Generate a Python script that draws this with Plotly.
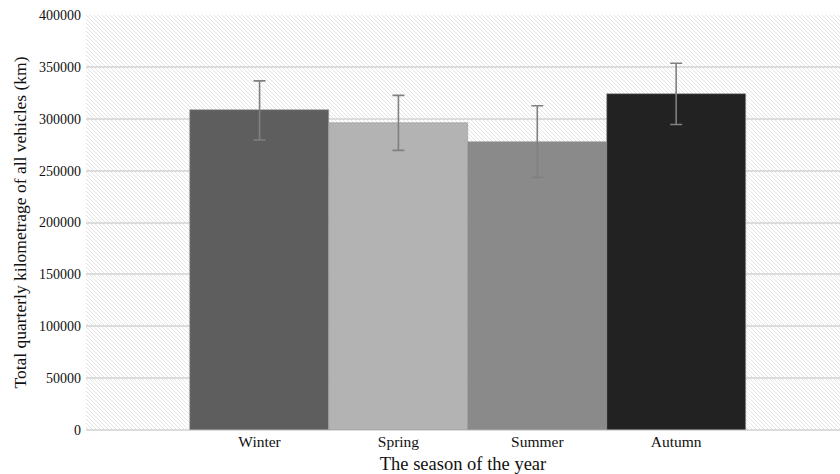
import base64
import plotly.graph_objects as go

# Seasonal totals with their spread
seasons = ["Winter", "Spring", "Summer", "Autumn"]
kilometrage = [308000, 296000, 278000, 324000]
spread = [28500, 26500, 34500, 29500]
bar_colors = ["#5e5e5e", "#b3b3b3", "#8a8a8a", "#222222"]
y_ticks = [0, 50000, 100000, 150000, 200000, 250000, 300000, 350000, 400000]

# Fine diagonal hatch used as the plot-area background
hatch_svg = (
    '<svg xmlns="http://www.w3.org/2000/svg" width="754" height="415">'
    '<defs><pattern id="h" patternUnits="userSpaceOnUse" width="4" height="4">'
    '<rect width="4" height="4" fill="#ffffff"/>'
    '<path d="M-1,-1 L5,5 M-1,3 L1,5 M3,-1 L5,1" stroke="#e4e4e4" stroke-width="1"/>'
    '</pattern></defs>'
    '<rect width="754" height="415" fill="url(#h)"/></svg>'
)
hatch_uri = "data:image/svg+xml;base64," + base64.b64encode(hatch_svg.encode()).decode()

fig = go.Figure(
    go.Bar(
        x=seasons,
        y=kilometrage,
        marker=dict(color=bar_colors, line=dict(color="#9a9a9a", width=0.6)),
        error_y=dict(type="data", array=spread, color="#808080", thickness=1.6, width=6),
        width=1.0,
    )
)

fig.update_layout(
    width=840,
    height=474,
    margin=dict(l=86, r=0, t=15, b=44),
    paper_bgcolor="white",
    plot_bgcolor="white",
    font=dict(family="Liberation Serif", size=14, color="#111111"),
    showlegend=False,
    bargap=0,
    images=[
        dict(
            source=hatch_uri,
            xref="paper", yref="paper",
            x=0, y=1, sizex=1, sizey=1,
            xanchor="left", yanchor="top",
            sizing="stretch", layer="below",
        )
    ],
    xaxis=dict(
        range=[-1.25, 4.18],
        showgrid=False,
        showline=False,
        ticks="",
        automargin=False,
        tickfont=dict(size=15.5),
        title=dict(text="The season of the year", font=dict(size=18.5), standoff=9),
    ),
    yaxis=dict(
        range=[0, 400000],
        tickvals=y_ticks,
        ticktext=[str(v) for v in y_ticks],
        showgrid=True,
        gridcolor="#dcdcdc",
        gridwidth=2,
        zeroline=True,
        zerolinecolor="#dcdcdc",
        zerolinewidth=2,
        ticks="",
        automargin=False,
        ticklabelstandoff=4,
        title=dict(text="Total quarterly kilometrage of all vehicles (km)", font=dict(size=17.5), standoff=7),
    ),
)

fig.write_html("out.html")
